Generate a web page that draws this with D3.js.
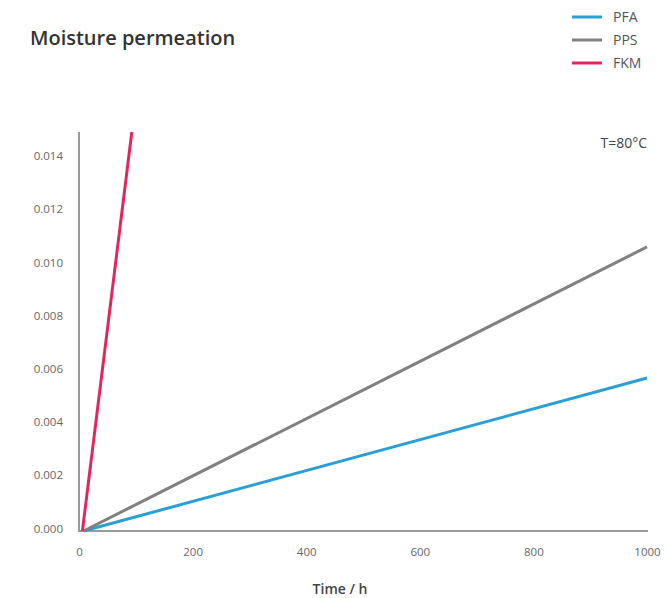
<!DOCTYPE html>
<html><head><meta charset="utf-8">
<script src="https://cdn.jsdelivr.net/npm/d3@7"></script>
<style>body{margin:0;background:#fff;} text{font-family:"Open Sans",sans-serif;}</style>
</head><body>
<svg id="c" width="669" height="598"></svg>
<script>
const seriesNames = ["PFA", "PPS", "FKM"];
const seriesColors = ["#2a9fd4", "#808080", "#e0285f"];
const timePFA = [8, 1000];
const valuesPFA = [0, 0.00575];
const timePPS = [8, 1000];
const valuesPPS = [0, 0.01068];
const timeFKM = [6, 93];
const valuesFKM = [0, 0.015];
const xTicks = [0, 200, 400, 600, 800, 1000];
const yTicks = [0, 0.002, 0.004, 0.006, 0.008, 0.010, 0.012, 0.014];

const svg = d3.select("#c");
const x = d3.scaleLinear().domain([0, 1000]).range([79, 647]);
const y = d3.scaleLinear().domain([0, 0.015]).range([531, 132]);

// axes
const xAxis = d3.axisBottom(x).tickValues(xTicks).tickSize(0).tickPadding(17).tickFormat(d3.format("d"));
const gx = svg.append("g").attr("transform", "translate(0,531)").call(xAxis);
gx.select(".domain").attr("stroke", "#999").attr("stroke-width", 2).attr("d", "M79,0H648");
gx.selectAll("text").attr("fill", "#666").style("font-size", "11.5px");

const yAxis = d3.axisLeft(y).tickValues(yTicks).tickSize(0).tickPadding(16).tickFormat(d3.format(".3f"));
const gy = svg.append("g").attr("transform", "translate(79,0)").call(yAxis);
gy.select(".domain").attr("stroke", "#999").attr("stroke-width", 2).attr("d", "M0,132V532");
gy.selectAll("text").attr("fill", "#666").style("font-size", "11.5px").attr("dy", "0.1em");

const data = [
  {t: timePFA, v: valuesPFA},
  {t: timePPS, v: valuesPPS},
  {t: timeFKM, v: valuesFKM}
];
const line = d3.line().x(d => x(d[0])).y(d => y(d[1]));
data.forEach((s, i) => {
  svg.append("path").datum(s.t.map((t, j) => [t, s.v[j]]))
    .attr("d", line).attr("fill", "none")
    .attr("stroke", seriesColors[i]).attr("stroke-width", 3);
});

// title
svg.append("text").attr("x", 30).attr("y", 45).text("Moisture permeation")
  .attr("fill", "#333").style("font-size", "20px").style("font-weight", 600);

// legend
seriesNames.forEach((n, i) => {
  const yy = 17 + i * 23;
  svg.append("line").attr("x1", 572).attr("x2", 602).attr("y1", yy).attr("y2", yy)
    .attr("stroke", seriesColors[i]).attr("stroke-width", 3);
  svg.append("text").attr("x", 613).attr("y", yy + 5).text(n)
    .attr("fill", "#555").style("font-size", "14px");
});

svg.append("text").attr("x", 647).attr("y", 148).attr("text-anchor", "end")
  .text("T=80°C").attr("fill", "#444").style("font-size", "14px");

svg.append("text").attr("x", 340).attr("y", 594).attr("text-anchor", "middle")
  .text("Time / h").attr("fill", "#444").style("font-size", "14px").style("font-weight", 600);
</script>
</body></html>
